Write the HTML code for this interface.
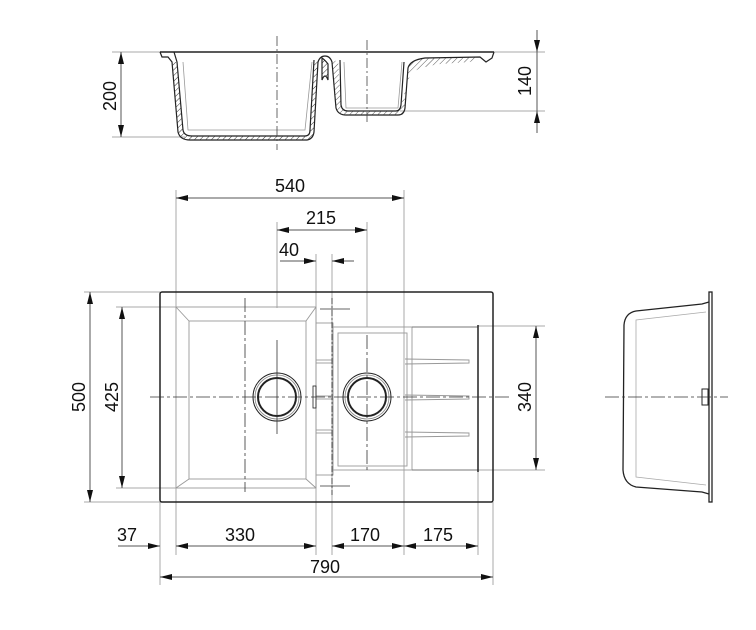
<!DOCTYPE html>
<html><head><meta charset="utf-8"><style>
html,body{margin:0;padding:0;background:#fff;}
svg{display:block;}
text{font-family:"Liberation Sans","DejaVu Sans",sans-serif;font-size:18px;fill:#111;}
</style></head><body>
<svg width="756" height="630" viewBox="0 0 756 630" xmlns="http://www.w3.org/2000/svg">
<defs>
<marker id="a" viewBox="0 0 12 6" refX="12" refY="3" markerWidth="12" markerHeight="6" orient="auto-start-reverse" markerUnits="userSpaceOnUse"><path d="M0,0L12,3L0,6z" fill="#111"/></marker>
<pattern id="h" width="4" height="4" patternUnits="userSpaceOnUse" patternTransform="rotate(45)"><line x1="0" y1="0" x2="0" y2="4" stroke="#333" stroke-width="1"/></pattern>
</defs>
<g fill="none" stroke="#aaa" stroke-width="1">
<line x1="112" y1="52" x2="170" y2="52"/><line x1="112" y1="137" x2="185" y2="137"/>
<line x1="494" y1="52" x2="545" y2="52"/><line x1="400" y1="111" x2="545" y2="111"/>
<line x1="176" y1="190" x2="176" y2="308"/><line x1="404" y1="190" x2="404" y2="470"/>
<line x1="367" y1="222" x2="367" y2="327"/><line x1="277" y1="222" x2="277" y2="308"/>
<line x1="316" y1="254" x2="316" y2="555"/><line x1="332" y1="254" x2="332" y2="555"/>
<line x1="84" y1="292" x2="160" y2="292"/><line x1="84" y1="502" x2="160" y2="502"/>
<line x1="116" y1="307" x2="176" y2="307"/><line x1="116" y1="488" x2="176" y2="488"/>
<line x1="478" y1="326" x2="545" y2="326"/><line x1="478" y1="470" x2="545" y2="470"/>
<line x1="160" y1="502" x2="160" y2="585"/><line x1="176" y1="488" x2="176" y2="555"/>
<line x1="404" y1="470" x2="404" y2="555"/><line x1="478" y1="470" x2="478" y2="555"/>
<line x1="493" y1="502" x2="493" y2="585"/>
</g>
<g stroke="#555" stroke-width="1" fill="none">
<line x1="121" y1="52" x2="121" y2="137" marker-start="url(#a)" marker-end="url(#a)"/>
<line x1="537" y1="30" x2="537" y2="52" marker-end="url(#a)"/>
<line x1="537" y1="111" x2="537" y2="133" marker-start="url(#a)"/>
<line x1="537" y1="52" x2="537" y2="111"/>
<line x1="176" y1="198" x2="404" y2="198" marker-start="url(#a)" marker-end="url(#a)"/>
<line x1="277" y1="230" x2="367" y2="230" marker-start="url(#a)" marker-end="url(#a)"/>
<line x1="280" y1="261" x2="316" y2="261" marker-end="url(#a)"/>
<line x1="332" y1="261" x2="354" y2="261" marker-start="url(#a)"/>
<line x1="90" y1="292" x2="90" y2="502" marker-start="url(#a)" marker-end="url(#a)"/>
<line x1="122" y1="307" x2="122" y2="488" marker-start="url(#a)" marker-end="url(#a)"/>
<line x1="536" y1="326" x2="536" y2="470" marker-start="url(#a)" marker-end="url(#a)"/>
<line x1="118" y1="546" x2="160" y2="546" marker-end="url(#a)"/>
<line x1="176" y1="546" x2="316" y2="546" marker-start="url(#a)" marker-end="url(#a)"/>
<line x1="332" y1="546" x2="404" y2="546" marker-start="url(#a)" marker-end="url(#a)"/>
<line x1="404" y1="546" x2="478" y2="546" marker-start="url(#a)" marker-end="url(#a)"/>
<line x1="160" y1="577" x2="493" y2="577" marker-start="url(#a)" marker-end="url(#a)"/>
</g>
<text x="290" y="192" text-anchor="middle">540</text>
<text x="321" y="224" text-anchor="middle">215</text>
<text x="289" y="256" text-anchor="middle">40</text>
<text x="127" y="541" text-anchor="middle">37</text>
<text x="240" y="541" text-anchor="middle">330</text>
<text x="365" y="541" text-anchor="middle">170</text>
<text x="438" y="541" text-anchor="middle">175</text>
<text x="325" y="573" text-anchor="middle">790</text>
<text transform="translate(116,96) rotate(-90)" text-anchor="middle">200</text>
<text transform="translate(85,397) rotate(-90)" text-anchor="middle">500</text>
<text transform="translate(118,397) rotate(-90)" text-anchor="middle">425</text>
<text transform="translate(531,397) rotate(-90)" text-anchor="middle">340</text>
<text transform="translate(531,81) rotate(-90)" text-anchor="middle">140</text>

<g stroke="#222" stroke-width="1.2" fill="none">
<line x1="160" y1="52" x2="494" y2="52" stroke-width="1.5"/>
<path d="M160,52 L162,57 L168,57 L172,62 L178,132 Q180,140 190,140 L307,140 Q313,139 314,132 L318,62 Q320,56 325,56 Q330,56 332,62 L336,108 Q338,115 346,115 L398,115 Q404,115 405,108 L408,68 Q410,60 425,58 L480,57 L486,62 L492,58 L494,52"/>
<path d="M174,52 L177,62 L183,130 Q184,136 192,136 L305,136 Q310,136 310,130 L314,60"/>
<path d="M322,58 Q325,60 328,64 L328,80 Q325,72 322,80 Z" fill="url(#h)"/>
<path d="M340,60 L341,105 Q342,111 348,111 L396,111 Q400,111 401,105 L404,62"/>
</g>
<path d="M172,62 L178,132 Q180,140 190,140 L307,140 Q313,139 314,132 L318,62 L314,60 L310,130 Q310,136 305,136 L192,136 Q184,136 183,130 L177,62 Z" fill="url(#h)" stroke="none"/>
<path d="M332,62 L336,108 Q338,115 346,115 L398,115 Q404,115 405,108 L408,68 Q410,60 425,58 L480,57 L470,62 L440,64 Q414,68 410,75 L401,105 Q400,111 396,111 L348,111 Q342,111 341,105 L338,60 Z" fill="url(#h)" stroke="none" opacity="0.8"/>
<g stroke="#999" stroke-width="0.8" fill="none">
<path d="M183,62 L188,130 L305,130 L312,62"/><path d="M344,62 L346,108 L398,108 L402,62"/>
</g>
<g stroke="#444" stroke-width="0.8" stroke-dasharray="10,3,2,3">
<line x1="277" y1="36" x2="277" y2="150"/><line x1="367" y1="40" x2="367" y2="125"/>
</g>

<rect x="160" y="292" width="333" height="210" rx="2" fill="none" stroke="#222" stroke-width="1.5"/>
<g fill="none" stroke="#999" stroke-width="0.9">
<rect x="176" y="307" width="140" height="181"/>
<rect x="189" y="321" width="117" height="158"/>
<line x1="176" y1="307" x2="189" y2="321"/><line x1="316" y1="307" x2="306" y2="321"/>
<line x1="176" y1="488" x2="189" y2="479"/><line x1="316" y1="488" x2="306" y2="479"/>
<rect x="333" y="327" width="79" height="143"/>
<rect x="338" y="333" width="69" height="133"/>
<rect x="316" y="323" width="17" height="152"/>
<line x1="316" y1="360" x2="332" y2="360"/><line x1="316" y1="363" x2="332" y2="363"/>
<line x1="316" y1="396" x2="332" y2="396"/><line x1="316" y1="399" x2="332" y2="399"/>
<line x1="316" y1="430" x2="332" y2="430"/><line x1="316" y1="433" x2="332" y2="433"/>
<path d="M405,359 L469,360 L469,363 L405,364"/>
<path d="M405,395 L469,396 L469,399 L405,400"/>
<path d="M405,432 L469,433 L469,436 L405,437"/>
</g>
<line x1="412" y1="327" x2="478" y2="327" stroke="#777" stroke-width="1"/>
<line x1="412" y1="470" x2="478" y2="470" stroke="#777" stroke-width="1"/>
<line x1="478" y1="325" x2="478" y2="472" stroke="#222" stroke-width="1.5"/>
<g fill="none" stroke="#222">
<circle cx="277" cy="397" r="24" stroke-width="1"/><circle cx="277" cy="397" r="22" stroke="#888" stroke-width="0.8"/><circle cx="277" cy="397" r="19" stroke-width="2"/>
<circle cx="367" cy="397" r="24" stroke-width="1"/><circle cx="367" cy="397" r="22" stroke="#888" stroke-width="0.8"/><circle cx="367" cy="397" r="19" stroke-width="2"/>
<rect x="313" y="386" width="3" height="22" stroke-width="0.8"/>
</g>
<g stroke="#333" stroke-width="0.8">
<line x1="150" y1="397" x2="510" y2="397" stroke-dasharray="14,3,3,3"/>
<line x1="245" y1="298" x2="245" y2="492" stroke-dasharray="14,3,3,3"/>
<line x1="277" y1="340" x2="277" y2="434"/>
<line x1="367" y1="335" x2="367" y2="472" stroke-dasharray="14,3,3,3"/>
<line x1="332" y1="298" x2="332" y2="495" stroke-dasharray="6,2,2,2"/>
<line x1="320" y1="309" x2="350" y2="309"/><line x1="320" y1="486" x2="350" y2="486"/>
</g>

<g fill="none" stroke="#222" stroke-width="1.3">
<rect x="709" y="292" width="3" height="210"/>
<path d="M709,302 L702,304 L636,311 Q625,313 624,325 L623,470 Q624,484 636,487 L702,492 L709,494"/>
<rect x="702" y="389" width="6" height="16" stroke-width="1"/>
</g>
<g fill="none" stroke="#aaa" stroke-width="0.8">
<path d="M706,312 L636,320 L636,477 L706,485"/>
</g>
<line x1="605" y1="397" x2="728" y2="397" stroke="#333" stroke-width="0.8" stroke-dasharray="14,3,3,3"/>
</svg>
</body></html>
